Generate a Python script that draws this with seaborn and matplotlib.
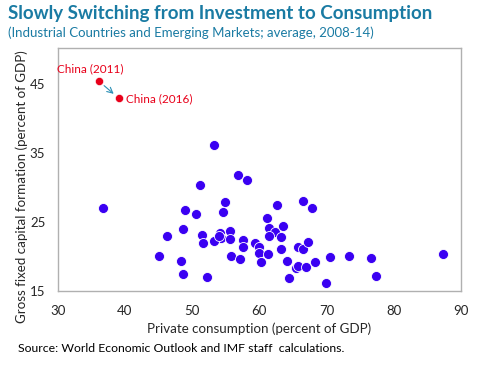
import pandas as pd
import numpy as np
import matplotlib
matplotlib.use("Agg")
import matplotlib.pyplot as plt
import seaborn as sns

# Data
consumption = [53.3, 56.8, 58.2, 51.1, 36.7, 54.9, 48.9, 50.6, 54.6, 61.1,
               48.6, 46.3, 51.4, 51.6, 54.1, 55.6, 54.3, 55.6, 53.3, 57.6,
               57.6, 59.4, 59.9, 59.9, 61.3, 60.2, 55.8, 57.1, 45.0, 48.4,
               48.6, 52.2, 62.6, 66.5, 67.8, 61.5, 62.3, 63.6, 61.4, 63.2,
               63.3, 64.1, 65.8, 66.5, 67.3, 65.5, 65.8, 67.0, 68.3, 64.4,
               69.9, 70.5, 73.4, 76.6, 77.4, 87.3, 54.0]
investment = [36.2, 31.8, 31.1, 30.4, 27.0, 27.9, 26.7, 26.1, 26.4, 25.5,
              23.9, 22.9, 23.1, 22.0, 23.4, 23.7, 22.7, 22.5, 22.3, 22.4,
              21.4, 22.0, 21.4, 20.5, 20.4, 19.2, 20.0, 19.6, 20.1, 19.4,
              17.5, 17.0, 27.4, 28.1, 27.0, 24.1, 23.6, 24.4, 22.9, 22.8,
              21.0, 19.3, 21.3, 21.1, 22.1, 18.3, 18.6, 18.5, 19.2, 16.8,
              16.1, 19.9, 20.0, 19.7, 17.2, 20.4, 23.0]
china_labels = ["China (2011)", "China (2016)"]
china_consumption = [36.1, 39.1]
china_investment = [45.4, 42.9]

x_ticks = [30, 40, 50, 60, 70, 80, 90]
y_ticks = [15, 25, 35, 45]

df = pd.DataFrame({"cons": consumption, "inv": investment})
china = pd.DataFrame({"cons": china_consumption, "inv": china_investment, "label": china_labels})

sns.set_style("white")
plt.rcParams['font.family'] = ['Lato', 'DejaVu Sans']

title_col = "#1a7ba3"
blue = "#3a00f2"
red = "#e8001a"

fig = plt.figure(figsize=(4.82, 3.72), dpi=100)
ax = fig.add_axes([0.120, 0.218, 0.836, 0.653])

sns.scatterplot(data=df, x="cons", y="inv", ax=ax, s=52, color=blue,
                edgecolor="white", linewidth=0.6, zorder=3)
sns.scatterplot(data=china, x="cons", y="inv", ax=ax, s=34, color=red,
                edgecolor="white", linewidth=0.4, zorder=3)

# arrow from 2011 to 2016
ax.annotate("", xy=(china_consumption[1], china_investment[1]),
            xytext=(china_consumption[0], china_investment[0]),
            arrowprops=dict(arrowstyle="->", color="#2a8fb5", lw=0.8,
                            shrinkA=5, shrinkB=5), zorder=2)
ax.annotate(china_labels[0], (china_consumption[0], china_investment[0]),
            xytext=(-6, 9), textcoords="offset points", ha="center", va="center",
            color=red, fontsize=8.5)
ax.annotate(china_labels[1], (china_consumption[1], china_investment[1]),
            xytext=(5, 0), textcoords="offset points", ha="left", va="center",
            color=red, fontsize=8.5)

ax.set_xlim(30, 90)
ax.set_ylim(15, 50.2)
ax.set_xticks(x_ticks)
ax.set_yticks(y_ticks)
ax.tick_params(axis="x", length=0, pad=10, labelsize=9.5)
ax.tick_params(axis="y", length=0, pad=9, labelsize=9.5)
for s in ax.spines.values():
    s.set_color("#b0b0b0")
    s.set_linewidth(1.0)

ax.set_xlabel("Private consumption (percent of GDP)", fontsize=9.6, labelpad=4)
ax.set_ylabel("Gross fixed capital formation (percent of GDP)", fontsize=9.6)
ax.yaxis.set_label_coords(-0.075, 0.43)

fig.text(0.017, 0.965, "Slowly Switching from Investment to Consumption",
         color=title_col, fontsize=13.5, fontweight="bold", va="center")
fig.text(0.017, 0.913, "(Industrial Countries and Emerging Markets; average, 2008-14)",
         color=title_col, fontsize=9.5, va="center")
fig.text(0.037, 0.064, "Source: World Economic Outlook and IMF staff  calculations.",
         color="black", fontsize=8.8, va="center")

fig.savefig("out.png", dpi=100)
